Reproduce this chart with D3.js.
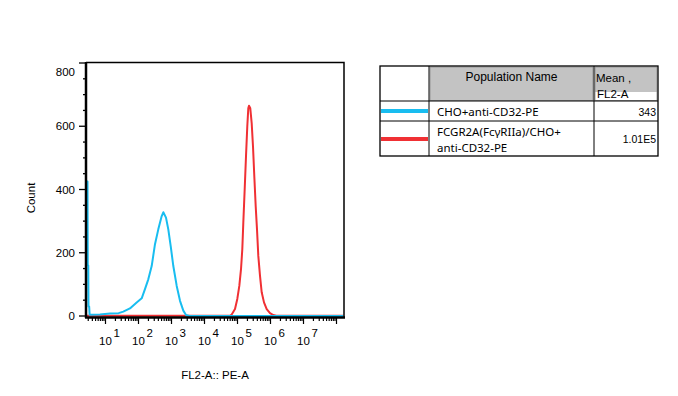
<!DOCTYPE html>
<html>
<head>
<meta charset="utf-8">
<script src="https://cdn.jsdelivr.net/npm/d3@7"></script>
<style>
  body { margin: 0; background: #fff; }
  svg { display: block; }
  text { font-family: "Liberation Sans", Arial, sans-serif; fill: #000; }
</style>
</head>
<body>
<svg id="chart" width="678" height="396"></svg>
<script>
// histogram of cyan population: FL2-A value / count
const cyanFL2 = [2.65, 2.85, 2.9, 3.0, 3.05, 3.2, 3.3, 6.8, 13.7, 25, 34.6, 55, 88, 125, 157, 198, 251, 316, 398, 505, 565, 681, 800, 946, 1135, 1438, 1811, 2280, 2754, 3500, 1.6e8];
const cyanCount = [425, 425, 160, 160, 30, 30, 4, 5, 8, 9, 14, 24, 43, 56, 85, 116, 158, 227, 274, 316, 328, 311, 274, 221, 158, 95, 48, 17, 3, 0, 0];

// histogram of red population
const redFL2 = [2.65, 60000, 66700, 84000, 98600, 113500, 127700, 139800, 150000, 165000, 181000, 198000, 212500, 223000, 244000, 269000, 295000, 323000, 356000, 390000, 427000, 481000, 541000, 635000, 767000, 966000, 1216000, 1500000, 1.6e8];
const redCount = [1, 1, 5, 22, 54, 95, 148, 211, 295, 400, 505, 600, 657, 665, 657, 610, 536, 442, 347, 274, 190, 127, 75, 43, 22, 9, 3, 0.5, 0.5];

const yTicks = [0, 200, 400, 600, 800];
const xDecades = [1, 2, 3, 4, 5, 6, 7];

const popNames = [["CHO+anti-CD32-PE"], ["FCGR2A(Fc\u03b3RIIa)/CHO+", "anti-CD32-PE"]];
const popMeans = ["343", "1.01E5"];
const popColors = ["#18bdf0", "#f03034"];

const svg = d3.select('#chart');

const plot = { left: 86, right: 344, top: 62, bottom: 317 };

const x = d3.scaleLog()
  .domain([Math.pow(10, 1 - 19.5 / 33), Math.pow(10, 1 + 238.5 / 33)])
  .range([plot.left, plot.right]);
const y = d3.scaleLinear().domain([0, 800]).range([316, 63]);

// histograms (red first, cyan on top)
const line = d3.line().x(d => x(d[0])).y(d => y(d[1]));
const series = [
  { xs: redFL2, ys: redCount, color: popColors[1] },
  { xs: cyanFL2, ys: cyanCount, color: popColors[0] }
];
series.forEach(s => {
  svg.append('path')
    .datum(s.xs.map((v, i) => [v, s.ys[i]]))
    .attr('d', line)
    .attr('fill', 'none')
    .attr('stroke', s.color)
    .attr('stroke-width', 2)
    .attr('stroke-linejoin', 'round');
});

// frame: thin top / right
svg.append('path')
  .attr('d', `M${plot.left},${plot.top + 0.5}H${plot.right}V${plot.bottom}`)
  .attr('fill', 'none').attr('stroke', '#000').attr('stroke-width', 1.5);

// y axis
const yAxis = svg.append('g');
yAxis.append('line')
  .attr('x1', plot.left).attr('x2', plot.left)
  .attr('y1', plot.top).attr('y2', plot.bottom + 1)
  .attr('stroke', '#000').attr('stroke-width', 2.5);
d3.range(0, 801, 50).forEach(v => {
  const major = v % 200 === 0;
  yAxis.append('line')
    .attr('x1', plot.left - (major ? 7 : 3)).attr('x2', plot.left)
    .attr('y1', y(v)).attr('y2', y(v))
    .attr('stroke', '#000').attr('stroke-width', 1.3);
});
yTicks.forEach(v => {
  yAxis.append('text')
    .attr('x', 75).attr('y', v === 800 ? y(v) + 9 : y(v))
    .attr('dy', '0.35em')
    .attr('text-anchor', 'end')
    .style('font-size', '11.5px')
    .text(v);
});
svg.append('text')
  .attr('transform', 'translate(35,198) rotate(-90)')
  .attr('text-anchor', 'middle')
  .style('font-size', '11.5px')
  .text('Count');

// x axis
const xAxis = svg.append('g');
xAxis.append('line')
  .attr('x1', plot.left - 1).attr('x2', plot.right + 1)
  .attr('y1', plot.bottom + 0.5).attr('y2', plot.bottom + 0.5)
  .attr('stroke', '#000').attr('stroke-width', 2.5);
const [d0, d1] = x.domain();
const minor = [];
for (let e = 0; e <= 8; e++) {
  for (let m = 1; m <= 9; m++) {
    const v = m * Math.pow(10, e);
    if (v >= d0 && v <= d1) minor.push({ v, major: m === 1 });
  }
}
minor.forEach(t => {
  xAxis.append('line')
    .attr('x1', x(t.v)).attr('x2', x(t.v))
    .attr('y1', plot.bottom + 1).attr('y2', plot.bottom + (t.major ? 7 : 4))
    .attr('stroke', '#000').attr('stroke-width', 1.2);
});
xDecades.forEach(e => {
  const px = x(Math.pow(10, e));
  xAxis.append('text')
    .attr('x', px).attr('y', 345)
    .attr('text-anchor', 'middle')
    .style('font-size', '11.5px')
    .text('10');
  xAxis.append('text')
    .attr('x', px + 8).attr('y', 337)
    .style('font-size', '11.5px')
    .text(e);
});
svg.append('text')
  .attr('x', (plot.left + plot.right) / 2).attr('y', 379)
  .attr('text-anchor', 'middle')
  .style('font-size', '11.5px')
  .text('FL2-A:: PE-A');

// legend table
const tbl = svg.append('g');
const tx0 = 380, tx1 = 429, tx2 = 594, tx3 = 658;
const rowsY = [66, 101, 121, 156];

tbl.append('rect').attr('x', tx1 + 1).attr('y', rowsY[0] + 1)
  .attr('width', tx2 - tx1 - 2).attr('height', rowsY[1] - rowsY[0] - 1.5)
  .attr('fill', '#c3c3c3').attr('stroke', '#8a8a8a').attr('stroke-width', 0.8);
tbl.append('rect').attr('x', tx2 + 1).attr('y', rowsY[0] + 1)
  .attr('width', tx3 - tx2 - 2).attr('height', 25)
  .attr('fill', '#c3c3c3');
tbl.append('rect').attr('x', tx2 + 1).attr('y', rowsY[0] + 1)
  .attr('width', tx3 - tx2 - 2).attr('height', rowsY[1] - rowsY[0] - 1.5)
  .attr('fill', 'none').attr('stroke', '#8a8a8a').attr('stroke-width', 0.8);

tbl.append('rect').attr('x', tx0).attr('y', rowsY[0])
  .attr('width', tx3 - tx0).attr('height', rowsY[3] - rowsY[0])
  .attr('fill', 'none').attr('stroke', '#000').attr('stroke-width', 1.3);
[rowsY[1], rowsY[2]].forEach(yy => {
  tbl.append('line').attr('x1', tx0).attr('x2', tx3).attr('y1', yy).attr('y2', yy)
    .attr('stroke', '#000').attr('stroke-width', 1);
});
[tx1, tx2].forEach(xx => {
  tbl.append('line').attr('x1', xx).attr('x2', xx).attr('y1', rowsY[0]).attr('y2', rowsY[3])
    .attr('stroke', '#000').attr('stroke-width', 1);
});

tbl.append('text').attr('x', (tx1 + tx2) / 2).attr('y', 81)
  .attr('text-anchor', 'middle').style('font-size', '12px').text('Population Name');
tbl.append('text').attr('x', tx2 + 2).attr('y', 82)
  .style('font-size', '11.5px').text('Mean ,');
tbl.append('text').attr('x', tx2 + 3).attr('y', 98)
  .style('font-size', '11.5px').text('FL2-A');

const rowMid = [111, 139];
popNames.forEach((name, i) => {
  tbl.append('line')
    .attr('x1', tx0 + 1).attr('x2', tx1 - 1)
    .attr('y1', rowMid[i]).attr('y2', rowMid[i])
    .attr('stroke', popColors[i]).attr('stroke-width', 4);
  const lines = name.length;
  name.forEach((ln, j) => {
    tbl.append('text')
      .attr('x', tx1 + 8)
      .attr('y', (lines === 1 ? rowMid[i] + 1 : 132 + j * 15.5))
      .attr('dy', '0.35em')
      .style('font-family', '"Noto Sans", "DejaVu Sans", sans-serif')
      .style('font-size', '11.5px')
      .text(ln);
  });
  tbl.append('text')
    .attr('x', tx3 - 2).attr('y', rowMid[i] + (i === 0 ? 1 : 0))
    .attr('dy', '0.35em')
    .attr('text-anchor', 'end')
    .style('font-size', '10.5px')
    .text(popMeans[i]);
});
</script>
</body>
</html>
